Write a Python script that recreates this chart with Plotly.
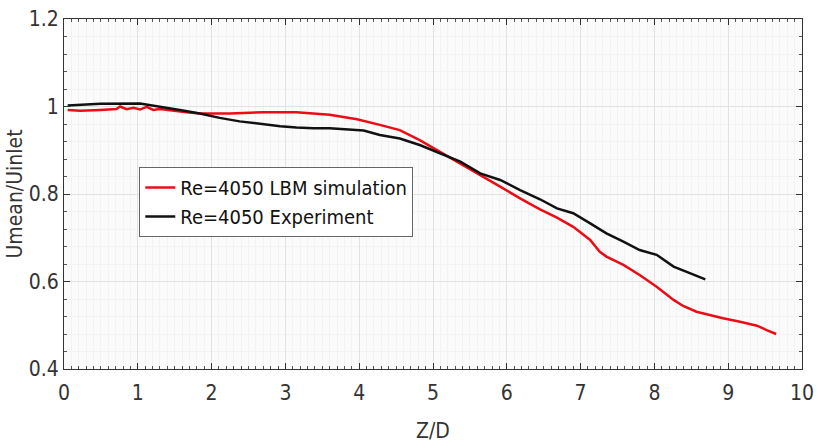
import plotly.graph_objects as go

# LBM simulation (red)
x_lbm = [0.05, 0.22, 0.49, 0.71, 0.76, 0.85, 0.94, 1.03, 1.12, 1.21, 1.30, 1.48, 1.66, 1.84,
         2.02, 2.25, 2.70, 3.15, 3.60, 3.97, 4.28, 4.55, 4.82, 5.09, 5.37, 5.64, 5.91, 6.18,
         6.45, 6.68, 6.90, 7.13, 7.26, 7.35, 7.58, 7.80, 8.03, 8.26, 8.39, 8.57, 8.71, 8.93,
         9.16, 9.39, 9.52, 9.65]
y_lbm = [0.992, 0.990, 0.992, 0.994, 1.000, 0.994, 0.997, 0.993, 0.999, 0.992, 0.994, 0.990,
         0.987, 0.984, 0.984, 0.984, 0.987, 0.987, 0.981, 0.971, 0.958, 0.946, 0.923, 0.897,
         0.870, 0.843, 0.817, 0.790, 0.765, 0.746, 0.725, 0.695, 0.668, 0.657, 0.638, 0.615,
         0.588, 0.558, 0.544, 0.531, 0.525, 0.516, 0.508, 0.499, 0.489, 0.480]

# Experiment (black)
x_exp = [0.05, 0.22, 0.49, 1.03, 1.30, 1.57, 1.84, 2.11, 2.38, 2.70, 2.93, 3.15, 3.38, 3.60,
         3.83, 4.06, 4.28, 4.55, 4.82, 5.09, 5.37, 5.64, 5.91, 6.18, 6.45, 6.68, 6.90, 7.13,
         7.35, 7.58, 7.80, 8.03, 8.26, 8.48, 8.69]
y_exp = [1.002, 1.004, 1.006, 1.007, 1.000, 0.992, 0.984, 0.974, 0.966, 0.959, 0.955, 0.952,
         0.950, 0.950, 0.948, 0.945, 0.935, 0.927, 0.912, 0.893, 0.874, 0.847, 0.832, 0.809,
         0.788, 0.767, 0.756, 0.733, 0.710, 0.691, 0.672, 0.661, 0.634, 0.619, 0.605]

names = ["Re=4050 LBM simulation", "Re=4050 Experiment"]
x_ticks = [0, 1, 2, 3, 4, 5, 6, 7, 8, 9, 10]
y_ticks = [0.4, 0.6, 0.8, 1.0, 1.2]
y_tick_text = ["0.4", "0.6", "0.8", "1", "1.2"]

FONT = "DejaVu Sans Condensed, Liberation Sans Narrow, Liberation Sans, Arial, sans-serif"

fig = go.Figure()
fig.add_trace(go.Scatter(x=x_lbm, y=y_lbm, mode="lines", name=names[0],
                         line=dict(color="#ec0c16", width=2.5)))
fig.add_trace(go.Scatter(x=x_exp, y=y_exp, mode="lines", name=names[1],
                         line=dict(color="#111111", width=2.5)))

axis_common = dict(
    showline=True, linecolor="#333333", linewidth=1, mirror="allticks",
    ticks="inside", ticklen=6, tickcolor="#333333", automargin=False,
    showgrid=True, gridcolor="#e2e2e2", gridwidth=1, zeroline=False,
    tickfont=dict(family=FONT, size=21, color="#333333"),
)

fig.update_xaxes(
    range=[0, 10], tickvals=x_ticks, ticklabelstandoff=5,
    title=dict(text="Z/D", font=dict(family=FONT, size=21, color="#333333"), standoff=24),
    minor=dict(dtick=0.1, ticks="inside", ticklen=3, tickcolor="#555555",
               showgrid=True, gridcolor="#f3f3f3"),
    **axis_common,
)
fig.update_yaxes(
    range=[0.4, 1.2], tickvals=y_ticks, ticktext=y_tick_text,
    title=dict(text="Umean/Uinlet", font=dict(family=FONT, size=21, color="#333333"), standoff=0),
    minor=dict(dtick=0.04, ticks="inside", ticklen=3, tickcolor="#555555",
               showgrid=True, gridcolor="#f3f3f3"),
    **axis_common,
)

fig.update_layout(
    width=817, height=443,
    margin=dict(l=64, r=15, t=19, b=74),
    paper_bgcolor="white", plot_bgcolor="#fbfbfb",
    showlegend=True,
    legend=dict(x=0.102, y=0.577, xanchor="left", yanchor="top",
                bgcolor="white", bordercolor="#666666", borderwidth=1,
                font=dict(family=FONT, size=20, color="#111111"),
                itemwidth=30, tracegroupgap=0),
)

fig.write_html("out.html")
